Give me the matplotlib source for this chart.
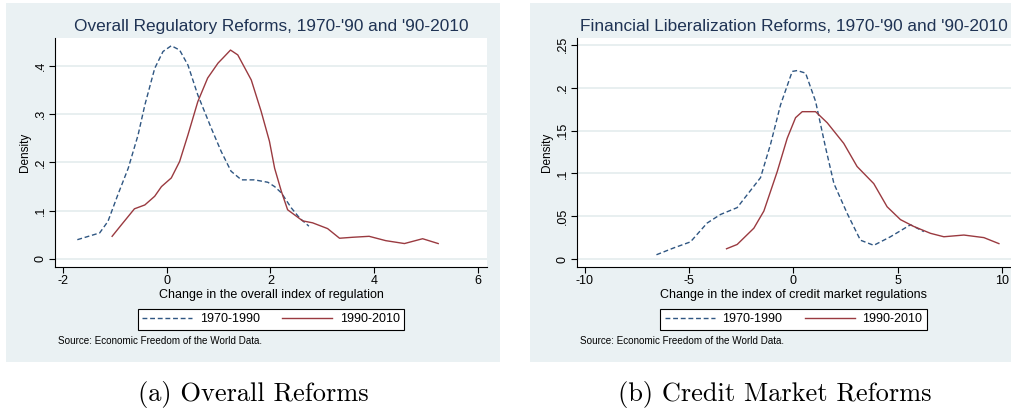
import matplotlib.pyplot as plt
from matplotlib.patches import Rectangle

# kernel density traces, overall regulation index
ovr_x_7090 = [-1.72, -1.29, -1.13, -0.94, -0.74, -0.55, -0.42, -0.23, -0.07, 0.09, 0.25, 0.41,
              0.60, 0.86, 1.05, 1.24, 1.44, 1.69, 1.95, 2.08, 2.21, 2.40, 2.56, 2.74]
ovr_y_7090 = [0.040, 0.054, 0.078, 0.133, 0.188, 0.257, 0.319, 0.395, 0.430, 0.442, 0.433, 0.402,
              0.340, 0.271, 0.223, 0.182, 0.164, 0.164, 0.159, 0.150, 0.137, 0.106, 0.085, 0.068]
ovr_x_9010 = [-1.05, -0.87, -0.62, -0.42, -0.23, -0.10, 0.09, 0.25, 0.41, 0.60, 0.79, 0.99, 1.08,
              1.23, 1.37, 1.63, 1.82, 1.98, 2.08, 2.21, 2.33, 2.62, 2.81, 3.10, 3.33, 3.58,
              3.90, 4.22, 4.58, 4.93, 5.23]
ovr_y_9010 = [0.047, 0.071, 0.104, 0.112, 0.130, 0.150, 0.168, 0.202, 0.257, 0.326, 0.375, 0.406,
              0.416, 0.433, 0.423, 0.371, 0.306, 0.244, 0.188, 0.140, 0.102, 0.079, 0.075, 0.063,
              0.043, 0.045, 0.047, 0.038, 0.032, 0.042, 0.032]

# kernel density traces, credit market regulation index
crd_x_7090 = [-6.57, -5.74, -4.94, -4.14, -3.50, -2.70, -2.22, -1.58, -1.10, -0.62, -0.06, 0.18,
              0.58, 1.06, 1.54, 1.94, 2.58, 3.21, 3.85, 4.65, 5.61, 6.25]
crd_y_7090 = [0.005, 0.013, 0.020, 0.042, 0.052, 0.060, 0.075, 0.095, 0.134, 0.180, 0.219, 0.220,
              0.217, 0.184, 0.130, 0.088, 0.053, 0.022, 0.016, 0.026, 0.040, 0.032]
crd_x_9010 = [-3.21, -2.70, -1.90, -1.42, -0.78, -0.30, 0.10, 0.42, 1.06, 1.62, 2.41, 3.05, 3.85,
              4.49, 5.13, 5.77, 6.57, 7.21, 8.17, 9.13, 9.85]
crd_y_9010 = [0.012, 0.017, 0.036, 0.056, 0.102, 0.141, 0.165, 0.172, 0.172, 0.159, 0.135, 0.108,
              0.088, 0.061, 0.046, 0.038, 0.030, 0.026, 0.028, 0.025, 0.018]

ovr_xticks = [-2, 0, 2, 4, 6]
ovr_yticks = [0, 0.1, 0.2, 0.3, 0.4]
ovr_yticklabels = ['0', '.1', '.2', '.3', '.4']
crd_xticks = [-10, -5, 0, 5, 10]
crd_yticks = [0, 0.05, 0.1, 0.15, 0.2, 0.25]
crd_yticklabels = ['0', '.05', '.1', '.15', '.2', '.25']

NAVY = '#2f5682'
MAROON = '#9a3a40'
PANEL = '#eaf1f3'
GRID = '#e4ecee'

plt.rcParams['font.family'] = ['Liberation Sans', 'DejaVu Sans']

W, H = 1011, 409
fig = plt.figure(figsize=(W / 100, H / 100), dpi=100)


def px_box(x0, y0, x1, y1):
    # pixel box (top-left origin) -> figure fraction rect
    return [x0 / W, 1 - y1 / H, (x1 - x0) / W, (y1 - y0) / H]


def panel(bg, axbox, title, xlabel, xs, ys, xticks, yticks, yticklabels, xlim, ylim, legend_cx):
    b = px_box(*bg)
    fig.patches.append(Rectangle((b[0], b[1]), b[2], b[3], transform=fig.transFigure,
                                 facecolor=PANEL, edgecolor='none', zorder=-10))
    ax = fig.add_axes(px_box(*axbox))
    ax.set_facecolor('white')
    ax.plot(xs[0], ys[0], color=NAVY, lw=1.0, ls=(0, (3.5, 2)), label='1970-1990')
    ax.plot(xs[1], ys[1], color=MAROON, lw=1.0, label='1990-2010')
    ax.set_xlim(*xlim)
    ax.set_ylim(*ylim)
    ax.set_xticks(xticks)
    ax.set_xticklabels([str(t) for t in xticks], fontsize=9)
    ax.set_yticks(yticks)
    ax.set_yticklabels(yticklabels, fontsize=9, rotation=90, va='center')
    ax.yaxis.grid(True, color=GRID, lw=1.2)
    ax.set_axisbelow(True)
    for s in ['top', 'right']:
        ax.spines[s].set_visible(False)
    ax.tick_params(length=4, width=0.8, pad=2)
    ax.set_xlabel(xlabel, fontsize=9, labelpad=1)
    ax.set_ylabel('Density', fontsize=8.5, labelpad=3)
    ax.set_title(title, fontsize=12.4, color='#1f3354', pad=5)
    leg = ax.legend(loc='center', bbox_to_anchor=(legend_cx / W, 1 - 319.5 / H),
                    bbox_transform=fig.transFigure, ncol=2, fontsize=9, frameon=True,
                    fancybox=False, edgecolor='black', facecolor='white', framealpha=1,
                    handlelength=4.0, handletextpad=0.6, columnspacing=1.8, borderpad=0.35)
    leg.get_frame().set_linewidth(0.8)
    fig.text((axbox[0] + 3) / W, 1 - 341 / H, 'Source: Economic Freedom of the World Data.',
             fontsize=7.1, va='center', ha='left')
    return ax


panel((6, 3, 500, 362), (55, 38, 487, 267),
      "Overall Regulatory Reforms, 1970-'90 and '90-2010",
      'Change in the overall index of regulation',
      [ovr_x_7090, ovr_x_9010], [ovr_y_7090, ovr_y_9010],
      ovr_xticks, ovr_yticks, ovr_yticklabels, (-2.15, 6.17), (-0.0166, 0.458), 271)

panel((530, 3, 1011, 362), (577, 38, 1011, 267),
      "Financial Liberalization Reforms, 1970-'90 and '90-2010",
      'Change in the index of credit market regulations',
      [crd_x_7090, crd_x_9010], [crd_y_7090, crd_y_9010],
      crd_xticks, crd_yticks, crd_yticklabels, (-10.38, 10.43), (-0.0093, 0.258), 793.5)

fig.text(253 / W, 1 - 394 / H, '(a) Overall Reforms', family='cmr10', fontsize=19,
         ha='center', va='center')
fig.text(775 / W, 1 - 394 / H, '(b) Credit Market Reforms', family='cmr10', fontsize=19,
         ha='center', va='center')

fig.savefig('out.png', dpi=100)
